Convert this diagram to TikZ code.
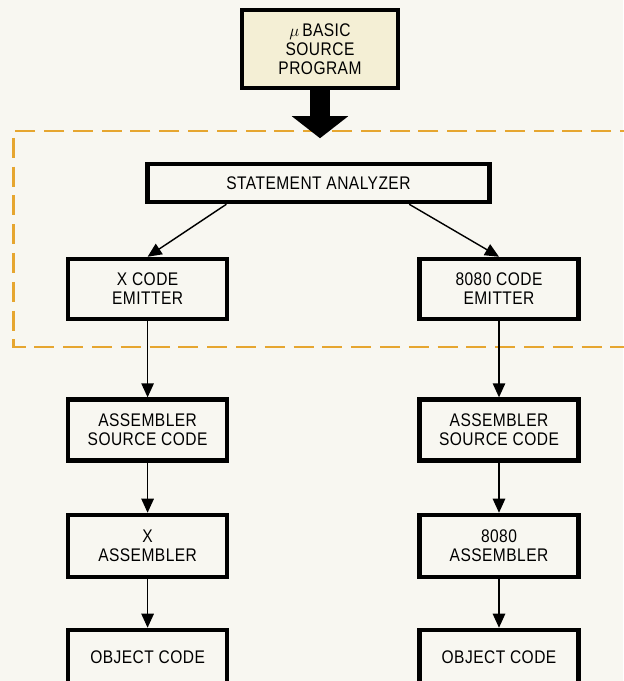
\documentclass[tikz,border=0pt]{standalone}
\usepackage{fontspec}
\setmainfont{Liberation Sans}[FakeStretch=0.85,LetterSpace=2.5]
\usepackage{tikz}
\usetikzlibrary{arrows.meta}
\usepackage{xcolor}
\definecolor{paper}{HTML}{F8F7F1}
\definecolor{cream}{HTML}{F4EFD5}
\definecolor{dashorange}{HTML}{E6A630}
\begin{document}
\begin{tikzpicture}[>={Triangle[length=3.5mm,width=3.1mm]},line cap=butt,
  box/.style={draw,line width=3.2pt,fill=paper,align=center,inner sep=2pt,
    font=\fontsize{13}{13.5}\selectfont},
  arr/.style={->,line width=1pt}]
\useasboundingbox (0,0) rectangle (15.575,17.025);
\fill[paper] (0,0) rectangle (15.575,17.025);
% dashed region round the analyzer and emitters
\draw[dashorange,line width=2pt,dash pattern=on 0.5cm off 0.22cm]
  (16,13.75) -- (0.33,13.75) -- (0.33,8.35) -- (16,8.35);
\node[box,fill=cream,minimum width=3.9cm,minimum height=1.95cm] (src) at (8.0,15.8)
  {$\mu$\,BASIC\\SOURCE\\PROGRAM};
\node[box,minimum width=8.55cm,minimum height=0.95cm] (ana) at (7.96,12.45) {STATEMENT ANALYZER};
\node[box,minimum width=3.98cm,minimum height=1.5cm] (xem) at (3.69,9.8) {X CODE\\EMITTER};
\node[box,minimum width=3.98cm,minimum height=1.5cm] (eem) at (12.475,9.8) {8080 CODE\\EMITTER};
\node[box,minimum width=3.98cm,minimum height=1.52cm] (xsrc) at (3.69,6.275) {ASSEMBLER\\SOURCE CODE};
\node[box,minimum width=3.98cm,minimum height=1.52cm] (esrc) at (12.475,6.275) {ASSEMBLER\\SOURCE CODE};
\node[box,minimum width=3.98cm,minimum height=1.55cm] (xasm) at (3.69,3.375) {X\\ASSEMBLER};
\node[box,minimum width=3.98cm,minimum height=1.55cm] (easm) at (12.475,3.375) {8080\\ASSEMBLER};
\node[box,minimum width=3.98cm,minimum height=1.35cm] (xobj) at (3.69,0.6) {OBJECT CODE};
\node[box,minimum width=3.98cm,minimum height=1.35cm] (eobj) at (12.475,0.6) {OBJECT CODE};
% big arrow out of the source program
\draw[line width=0.5cm,-{Triangle[length=5.5mm,width=13.8mm]}] (src.south) -- ++(0,-1.2);
\draw[arr] ([xshift=-2.3cm]ana.south) -- (xem.north);
\draw[arr] ([xshift=2.27cm]ana.south) -- (eem.north);
\draw[arr] (xem) -- (xsrc);
\draw[arr] (eem) -- (esrc);
\draw[arr] (xsrc) -- (xasm);
\draw[arr] (esrc) -- (easm);
\draw[arr] (xasm) -- (xobj);
\draw[arr] (easm) -- (eobj);
\end{tikzpicture}
\end{document}
